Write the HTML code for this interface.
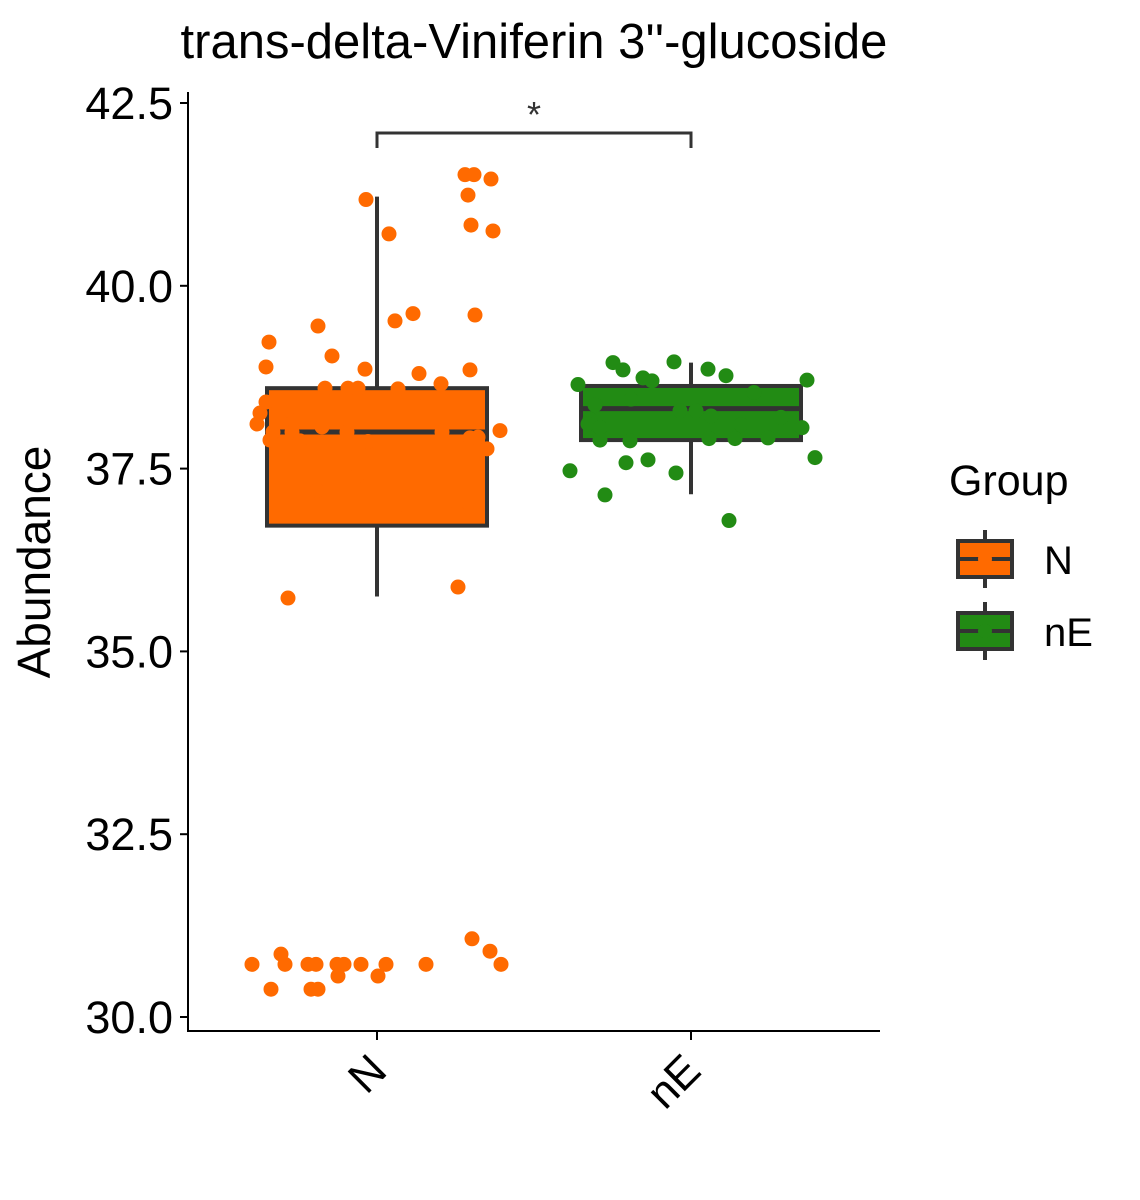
<!DOCTYPE html>
<html><head><meta charset="utf-8"><style>
html,body{margin:0;padding:0;background:#fff;}
svg{display:block;font-family:"Liberation Sans",Arial,sans-serif;}
</style></head><body>
<svg id="chart" width="1140" height="1200" viewBox="0 0 1140 1200">
<text x="534" y="58" font-size="49" text-anchor="middle" fill="#000">trans-delta-Viniferin 3''-glucoside</text>
<text transform="translate(50,562) rotate(-90)" font-size="46" text-anchor="middle" fill="#000">Abundance</text>
<g id="plot"></g>
<g>
<text x="949" y="495" font-size="43" fill="#000">Group</text>
<g>
<line x1="985" y1="530" x2="985" y2="588" stroke="#333" stroke-width="4"/>
<rect x="958" y="541" width="54" height="36" fill="#FF6A00" stroke="#333" stroke-width="4"/>
<line x1="958" y1="559" x2="1012" y2="559" stroke="#333" stroke-width="4"/>
<circle cx="985" cy="559" r="7" fill="#FF6A00"/>
<text x="1044" y="574" font-size="40" fill="#000">N</text>
</g>
<g>
<line x1="985" y1="602" x2="985" y2="660" stroke="#333" stroke-width="4"/>
<rect x="958" y="613" width="54" height="36" fill="#228B14" stroke="#333" stroke-width="4"/>
<line x1="958" y1="631" x2="1012" y2="631" stroke="#333" stroke-width="4"/>
<circle cx="985" cy="631" r="7" fill="#228B14"/>
<text x="1044" y="646" font-size="40" fill="#000">nE</text>
</g>
</g>
</svg>
<script>
const categories = ["N", "nE"];
const colors = ["#FF6A00", "#228B14"];
// box stats: [whiskerLow, q1, median, q3, whiskerHigh]
const boxN = [35.75, 36.72, 38.0, 38.60, 41.22];
const boxNE = [37.15, 37.89, 38.32, 38.63, 38.95];
const yTicks = [30.0, 32.5, 35.0, 37.5, 40.0, 42.5];
const yTickLabels = ["30.0", "32.5", "35.0", "37.5", "40.0", "42.5"];
const pointsN = [41.18,40.71,41.52,41.52,41.46,41.24,40.83,40.75,39.45,39.52,39.62,39.60,39.23,38.89,39.04,38.86,38.80,38.85,38.66,38.60,38.60,38.60,38.59,38.41,38.26,38.11,38.02,38.0,38.0,38.0,38.0,38.07,37.89,37.88,37.87,37.92,37.93,37.77,35.73,35.88,30.72,30.38,30.86,30.72,30.72,30.72,30.38,30.38,30.72,30.72,30.56,30.72,30.56,30.72,30.72,31.07,30.90,30.72,37.2,37.0,36.9,37.4,38.3,38.4];
const jitterN = [-11,12,88,97,114,91,94,116,-59,18,36,98,-108,-111,-45,-12,42,93,64,-52,-29,-19,21,-111,-117,-120,123,-104,-85,-30,65,-55,-107,-77,-9,93,101,110,-89,81,-125,-106,-96,-92,-69,-61,-66,-59,-40,-33,-39,-16,1,9,49,95,113,124,-60,20,80,-20,-90,50];
const pointsNE = [38.95,38.85,38.96,38.86,38.77,38.74,38.70,38.65,38.71,38.54,38.29,38.29,38.22,38.37,38.17,38.11,38.06,38.06,37.89,37.88,37.91,37.91,37.92,37.47,37.58,37.62,37.44,37.65,37.14,36.79,38.45,38.1,38.2];
const jitterNE = [-78,-68,-17,17,35,-48,-39,-113,116,63,5,-11,20,-96,-101,-103,-91,111,-91,-61,18,44,77,-121,-65,-43,-15,124,-86,38,-60,50,90];

const NS = "http://www.w3.org/2000/svg";
const plot = document.getElementById("plot");
const X0 = 188, X1 = 880, YB = 1031, YT = 92;
function y(v){ return 1017 - (v - 30) * 73.12; }
function x(i){ return [377, 691][i]; }
function mk(tag, attrs){ const e = document.createElementNS(NS, tag); for (const k in attrs) e.setAttribute(k, attrs[k]); plot.appendChild(e); return e; }

let ax = mk("line", {x1:X0, y1:YT, x2:X0, y2:YB, stroke:"#000", "stroke-width":2});


let bx = mk("line", {x1:X0-1, y1:YB, x2:X1, y2:YB, stroke:"#000", "stroke-width":2});


yTicks.forEach((t, i) => {
  const tk = mk("line", {x1:X0-8, y1:y(t), x2:X0, y2:y(t), stroke:"#000", "stroke-width":2});
  
  
  const lb = mk("text", {x:X0-15, y:y(t)+16, "font-size":45, "text-anchor":"end", fill:"#000"});
  lb.textContent = yTickLabels[i];
  
  
});
categories.forEach((c, i) => {
  const tk = mk("line", {x1:x(i), y1:YB, x2:x(i), y2:YB+9, stroke:"#000", "stroke-width":2});
  
  
  const lb = mk("text", {transform:"translate(" + (x(i)+12) + "," + (YB+42) + ") rotate(-45)", "font-size":44, "text-anchor":"end", fill:"#000"});
  lb.textContent = c;
  
  
});

const boxes = [boxN, boxNE];
const pts = [pointsN, pointsNE];
const jit = [jitterN, jitterNE];
boxes.forEach((b, i) => {
  const cx = x(i), hw = 110;
  const w = mk("line", {x1:cx, y1:y(b[0]), x2:cx, y2:y(b[4]), stroke:"#333", "stroke-width":4});
  
  
  const r = mk("rect", {x:cx-hw, y:y(b[3]), width:2*hw, height:y(b[1])-y(b[3]), fill:colors[i], stroke:"#333", "stroke-width":4});
  
  
  const m = mk("line", {x1:cx-hw, y1:y(b[2]), x2:cx+hw, y2:y(b[2]), stroke:"#333", "stroke-width":5});
  
  
});
pts.forEach((arr, i) => {
  arr.forEach((v, k) => {
    const p = mk("circle", {cx:x(i)+jit[i][k], cy:y(v), r:7.5, fill:colors[i]});
    
    
  });
});
const by = 133;
const br = mk("path", {d:"M"+x(0)+","+(by+15)+" V"+by+" H"+x(1)+" V"+(by+15), fill:"none", stroke:"#333", "stroke-width":3});


const st = mk("text", {x:(x(0)+x(1))/2, y:by-6, "font-size":36, "text-anchor":"middle", fill:"#333"});
st.textContent = "*";


</script>
</body></html>
